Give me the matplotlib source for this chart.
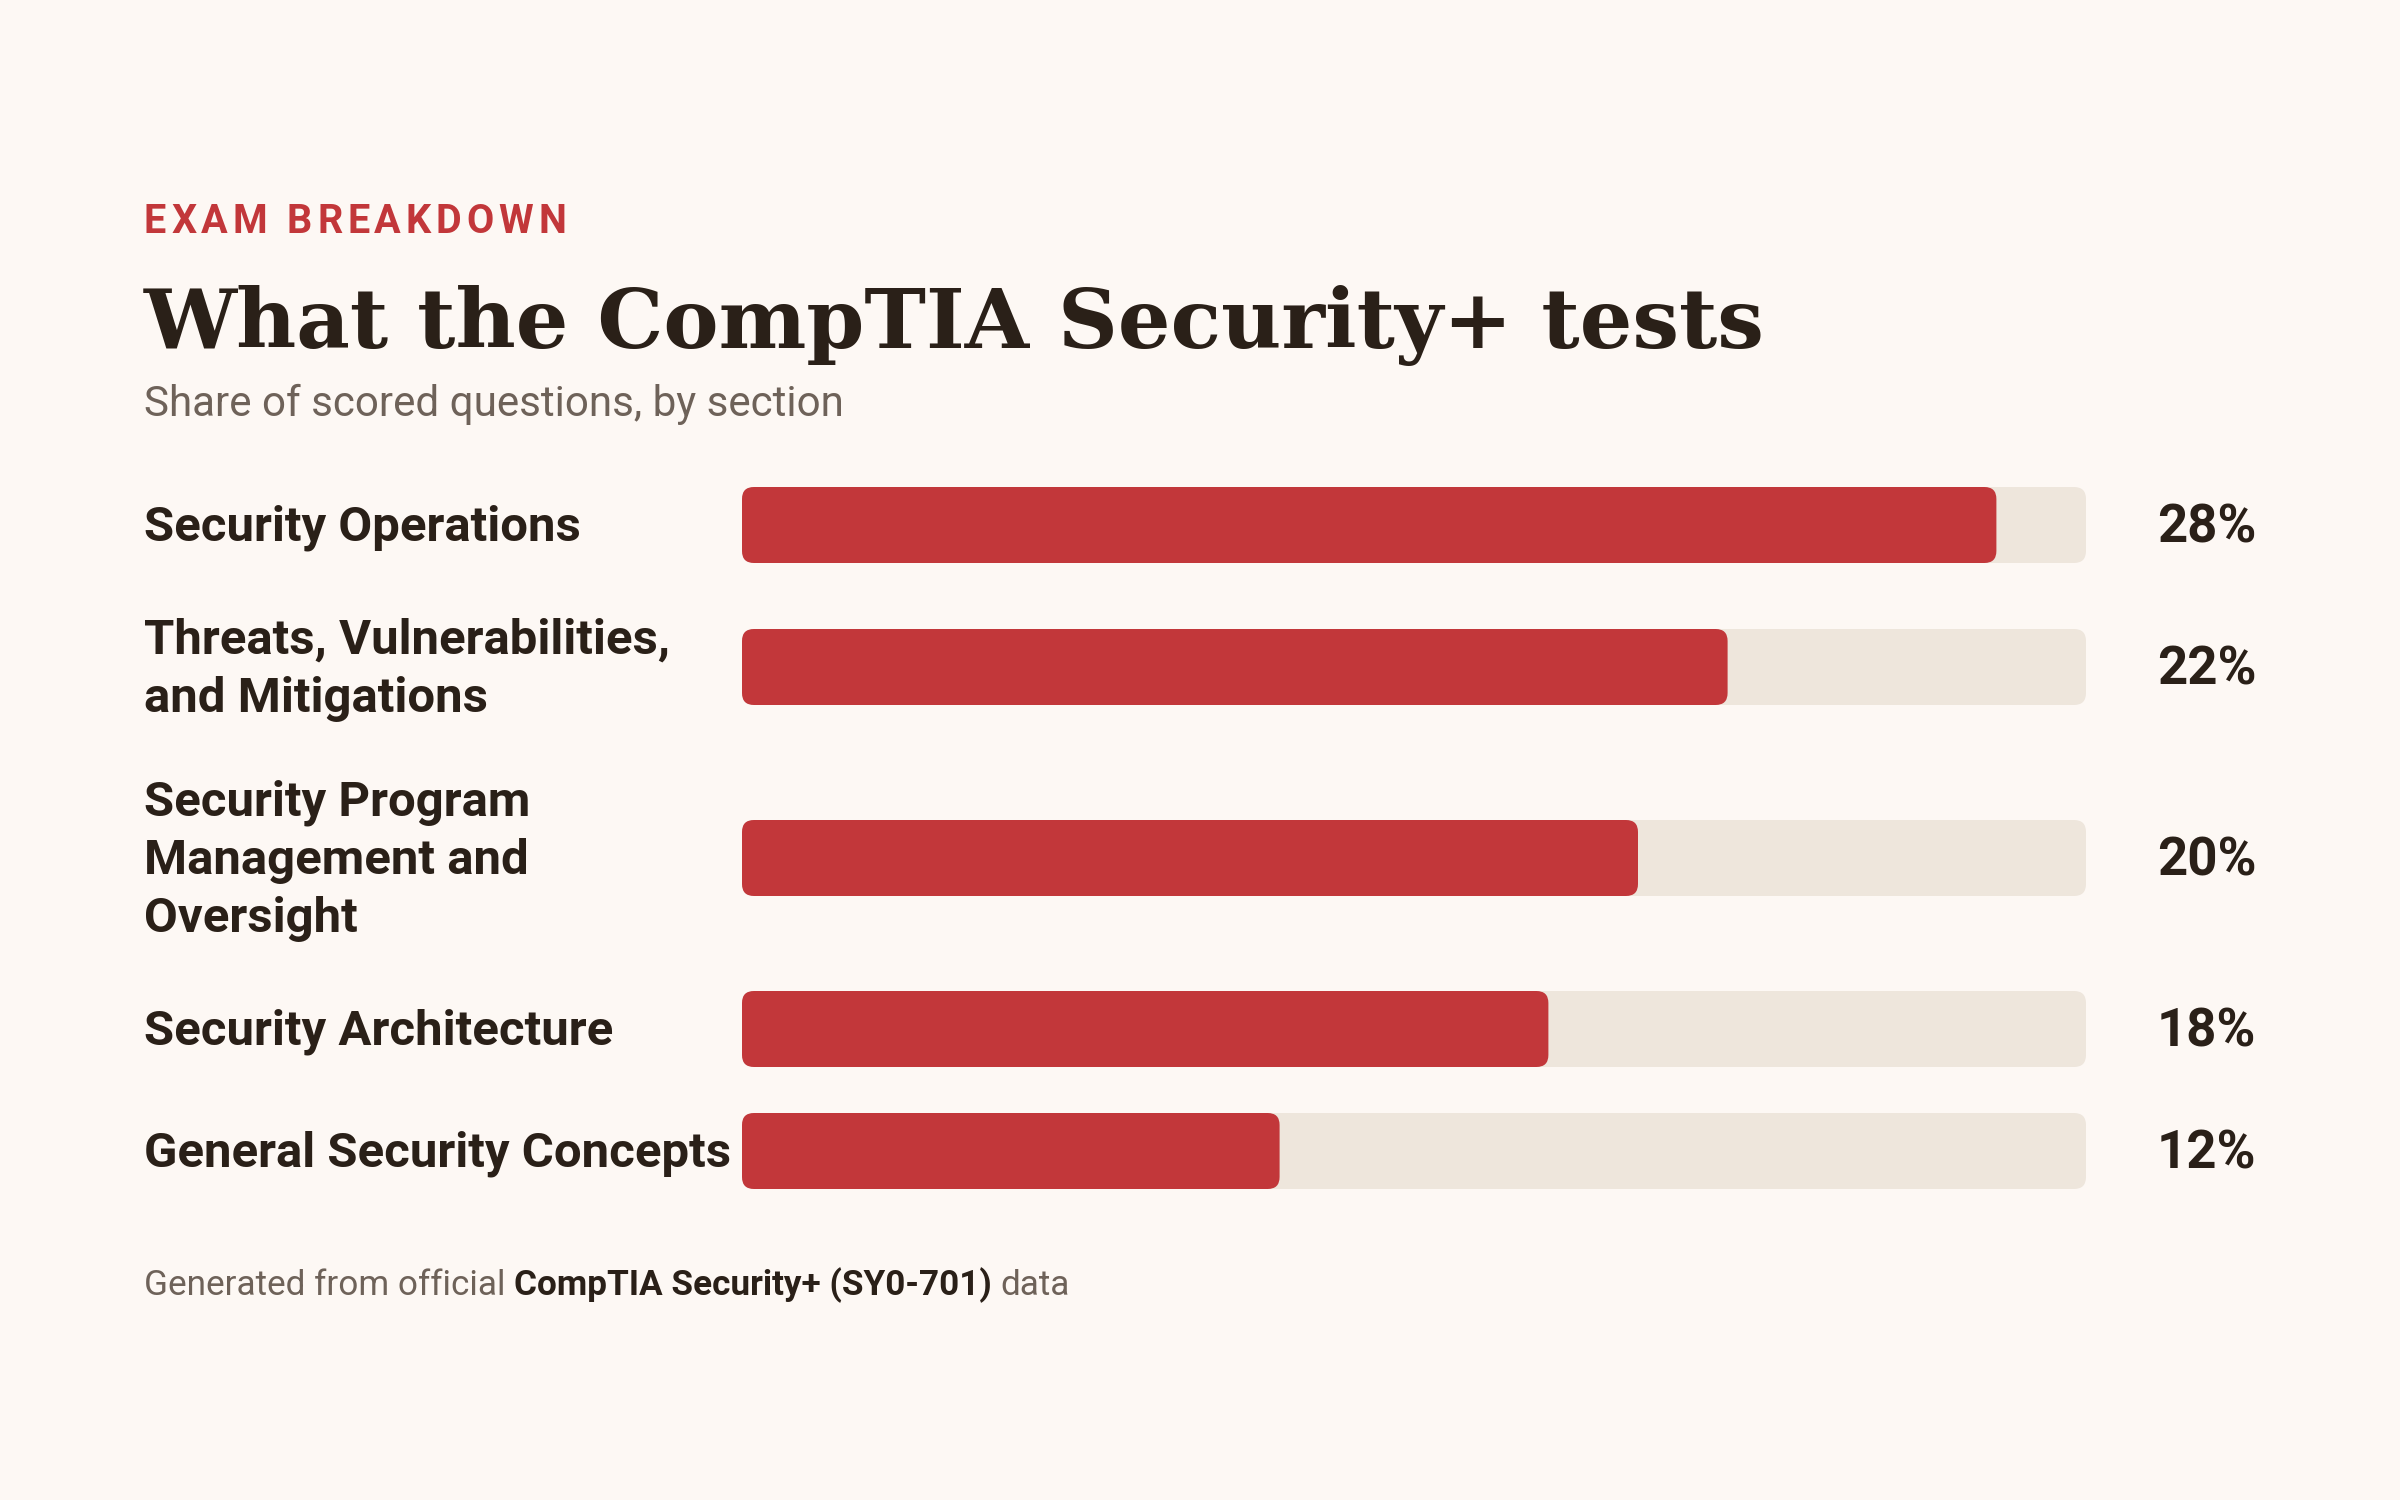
import matplotlib
matplotlib.use("Agg")
import matplotlib.pyplot as plt
from matplotlib.patches import FancyBboxPatch

# data
sections = [
    "Security Operations",
    "Threats, Vulnerabilities,\nand Mitigations",
    "Security Program\nManagement and\nOversight",
    "Security Architecture",
    "General Security Concepts",
]
shares = [28, 22, 20, 18, 12]
scale_max = 30

kicker = "EXAM BREAKDOWN"
title = "What the CompTIA Security+ tests"
subtitle = "Share of scored questions, by section"
footer_parts = [("Generated from official", "normal"),
                ("CompTIA Security+ (SY0-701)", "bold"),
                ("data", "normal")]

# colours
BG = "#FDF8F4"
RED = "#C2373A"
TRACK = "#EEE6DC"
INK = "#2A2018"
MUTED = "#6E6259"

W, H = 2400, 1500
fig = plt.figure(figsize=(24, 15), dpi=100, facecolor=BG)
page = fig.add_axes([0, 0, 1, 1])
page.set_xlim(0, W)
page.set_ylim(H, 0)
page.axis("off")
renderer = fig.canvas.get_renderer()


def width_of(t):
    return t.get_window_extent(renderer).width


def measure(s, **kw):
    t = page.text(0, 0, s, **kw)
    w = width_of(t)
    t.remove()
    return w


LEFT = 144

# kicker, letter-spaced
kw = dict(fontsize=28.5, fontweight="bold", family="Roboto", color=RED, va="baseline")
space_w = measure("E E", **kw) - measure("EE", **kw)
widths = [space_w if ch == " " else measure(ch, **kw) for ch in kicker]
tracking = (422 - sum(widths)) / (len(kicker) - 1)
x = LEFT
for ch, w in zip(kicker, widths):
    if ch != " ":
        page.text(x, 233, ch, **kw)
    x += w + tracking

# title, fitted to width
t = page.text(LEFT, 348, title, fontsize=72, fontweight="bold",
              family="DejaVu Serif", color=INK, va="baseline")
t.set_fontsize(72 * 1621 / width_of(t))

page.text(LEFT, 416, subtitle, fontsize=30.3, family="Roboto", color=MUTED, va="baseline")

# row layout
bar_h = 76
line_h = 58
gap = 46
centers = []
top = 487
for s in sections:
    n = s.count("\n") + 1
    h = max(bar_h, n * line_h)
    centers.append(top + h / 2)
    top += h + gap

# bars
x0, x1 = 742, 2086
bars = fig.add_axes([x0 / W, 0, (x1 - x0) / W, 1])
bars.set_xlim(0, scale_max)
bars.set_ylim(H, 0)
bars.axis("off")
bars.patch.set_alpha(0)

px_per_x = (x1 - x0) / scale_max
radius = 12
track = bars.barh(centers, [scale_max] * len(shares), height=bar_h)
fill = bars.barh(centers, shares, height=bar_h)
for container, color in [(track, TRACK), (fill, RED)]:
    for rect in container:
        bx, by = rect.get_x(), rect.get_y()
        bw, bh = rect.get_width(), rect.get_height()
        rect.remove()
        bars.add_patch(FancyBboxPatch(
            (bx, by), bw, bh,
            boxstyle=f"round,pad=0,rounding_size={radius / px_per_x}",
            mutation_aspect=px_per_x, fc=color, ec="none"))

for label, c, v in zip(sections, centers, shares):
    page.text(LEFT, c + 3, label, fontsize=35.4, fontweight="bold", family="Roboto",
              color=INK, va="center", ha="left", linespacing=1.34)
    page.text(2157, c + 3, f"{v}%", fontsize=38, fontweight="bold", family="Roboto",
              color=INK, va="center", ha="left")

# footer with mixed weights
x = LEFT
fkw = dict(fontsize=25.3, family="Roboto", va="baseline")
gap_w = measure("a a", **fkw) - measure("aa", **fkw)
for text, weight in footer_parts:
    col = INK if weight == "bold" else MUTED
    t = page.text(x, 1295, text, fontweight=weight, color=col, **fkw)
    x += width_of(t) + gap_w

fig.savefig("out.png", dpi=100, facecolor=BG)
